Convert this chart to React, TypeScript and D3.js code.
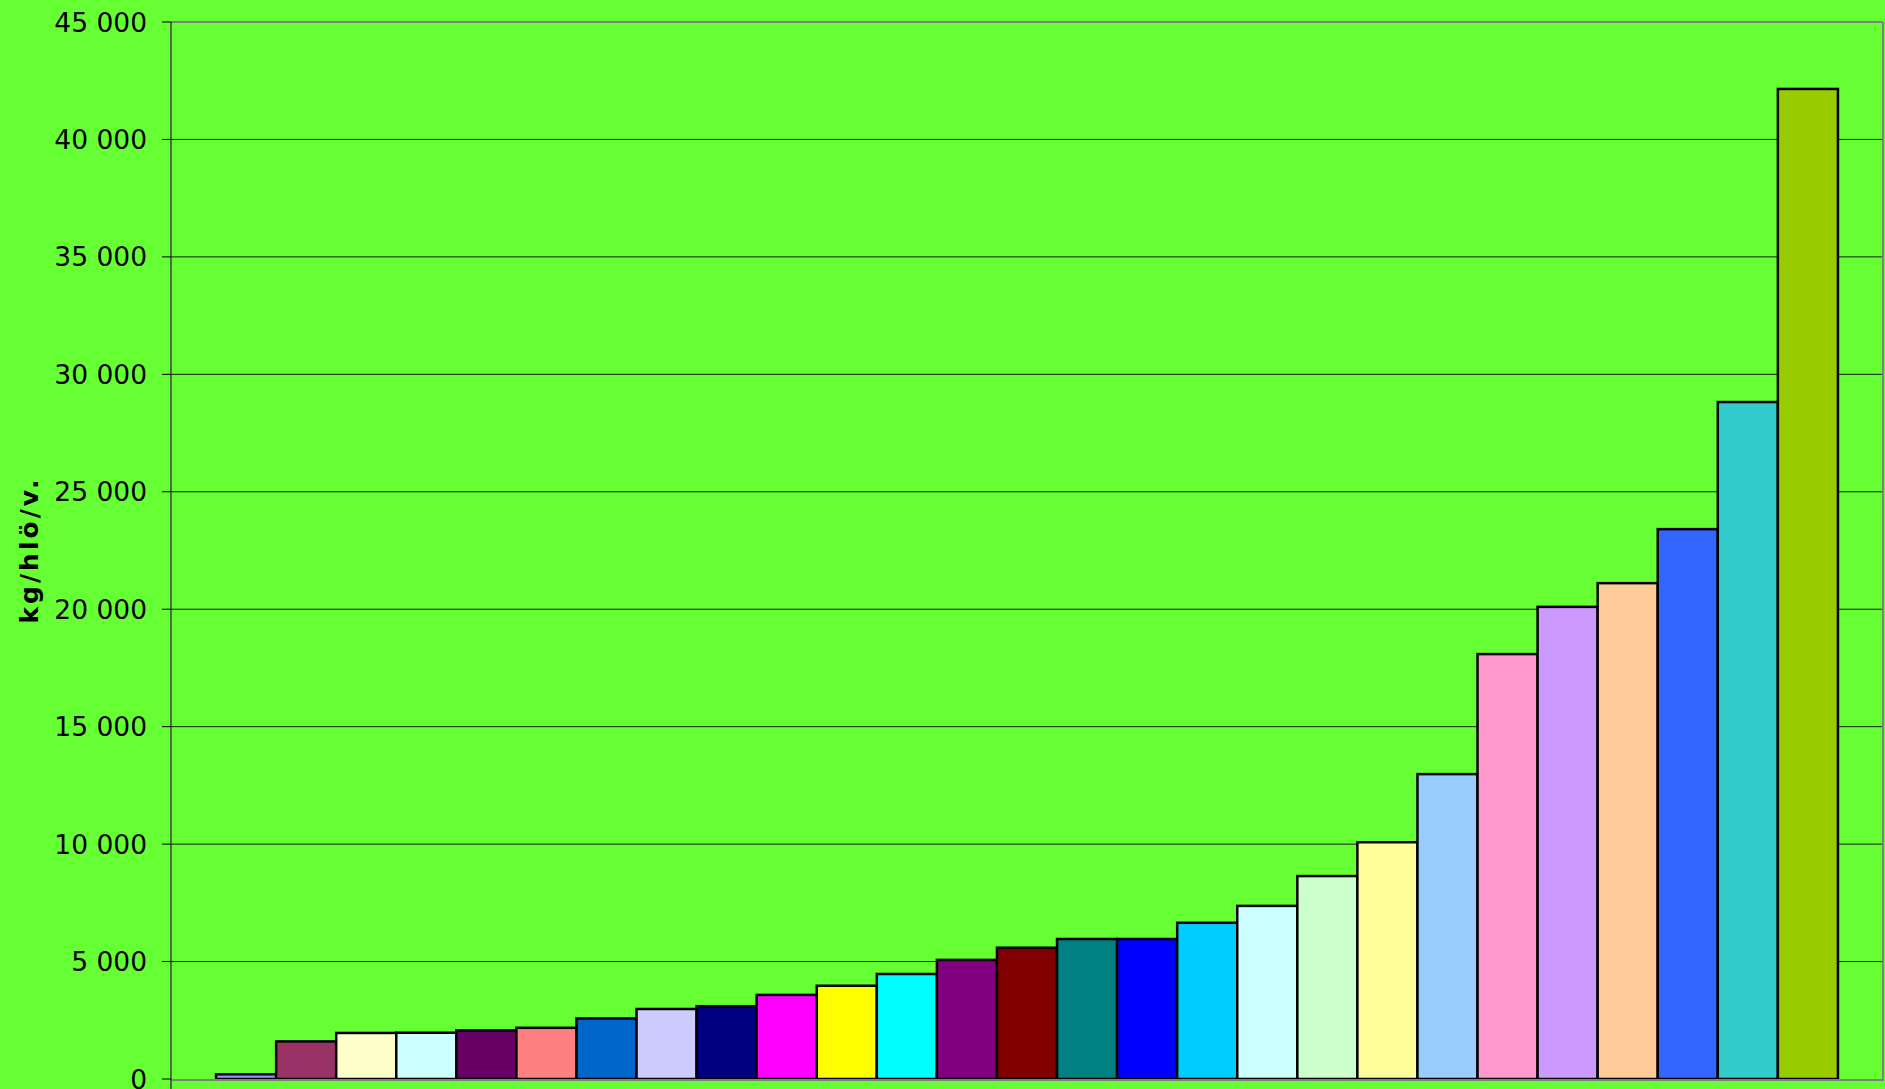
import React from "react";
import * as d3 from "d3";

const seriesNames: string[] = Array.from({ length: 27 }, (_, i) => `S${i + 1}`);
const seriesValues: number[] = [
  200, 1600, 1960, 1970, 2070, 2180, 2580, 2980, 3100, 3580, 3970, 4470, 5070, 5590,
  5960, 5960, 6650, 7370, 8640, 10080, 12980, 18090, 20100, 21110, 23410, 28820, 42150,
];
const seriesColors: string[] = [
  "#9999FF", "#993366", "#FFFFCC", "#CCFFFF", "#660066", "#FF8080", "#0066CC", "#CCCCFF",
  "#000080", "#FF00FF", "#FFFF00", "#00FFFF", "#800080", "#800000", "#008080", "#0000FF",
  "#00CCFF", "#CCFFFF", "#CCFFCC", "#FFFF99", "#99CCFF", "#FF99CC", "#CC99FF", "#FFCC99",
  "#3366FF", "#33CCCC", "#99CC00",
];
const yTicks: number[] = [0, 5000, 10000, 15000, 20000, 25000, 30000, 35000, 40000, 45000];
const yTitle = "kg/hlö/v.";

const W = 1885;
const H = 1089;
const plot = { left: 171, top: 22, right: 1883, bottom: 1079 };

export default function App() {
  const x = d3
    .scaleBand<string>()
    .domain(seriesNames)
    .range([plot.left, plot.right])
    .paddingInner(0)
    .paddingOuter(0.75);
  const y = d3.scaleLinear().domain([0, 45000]).range([plot.bottom, plot.top]);
  const fmt = d3.formatLocale({ decimal: ",", thousands: " ", grouping: [3], currency: ["", ""] }).format(",d");
  const font = "'DejaVu Sans', Verdana, sans-serif";

  return (
    <svg
      width={W}
      height={H}
      style={{ position: "absolute", left: 0, top: 0, display: "block" }}
    >
      <rect x={0} y={0} width={W} height={H} fill="#66FF33" />
      {yTicks.filter((t) => t > 0 && t < 45000).map((t) => (
        <line key={t} x1={plot.left} x2={plot.right} y1={y(t)} y2={y(t)} stroke="#1a1a1a" strokeWidth={1} />
      ))}
      <line x1={plot.left} x2={plot.right} y1={plot.top} y2={plot.top} stroke="#808080" strokeWidth={2} />
      <line x1={plot.right} x2={plot.right} y1={plot.top} y2={plot.bottom + 2} stroke="#808080" strokeWidth={2} />
      {seriesValues.map((v, i) => (
        <rect
          key={i}
          x={x(seriesNames[i])}
          y={y(v)}
          width={x.bandwidth()}
          height={y(0) - y(v)}
          fill={seriesColors[i]}
          stroke="#000"
          strokeWidth={2.5}
        />
      ))}
      <line x1={plot.left} x2={plot.right} y1={plot.bottom + 1} y2={plot.bottom + 1} stroke="#808080" strokeWidth={2} />
      <line x1={plot.left} x2={plot.left} y1={plot.top} y2={plot.bottom + 10} stroke="#404040" strokeWidth={1.5} />
      {yTicks.map((t) => (
        <g key={t}>
          <line x1={plot.left - 9} x2={plot.left} y1={y(t)} y2={y(t)} stroke="#000" strokeWidth={1} />
          <text
            x={147}
            y={y(t)}
            textAnchor="end"
            dominantBaseline="central"
            fontFamily={font}
            fontSize={26.5}
            fill="#000"
          >
            {fmt(t)}
          </text>
        </g>
      ))}
      <text
        transform={`translate(29, ${550}) rotate(-90)`}
        textAnchor="middle"
        dominantBaseline="central"
        fontFamily={font}
        fontWeight="bold"
        fontSize={25}
        letterSpacing={3}
        fill="#000"
      >
        {yTitle}
      </text>
    </svg>
  );
}
